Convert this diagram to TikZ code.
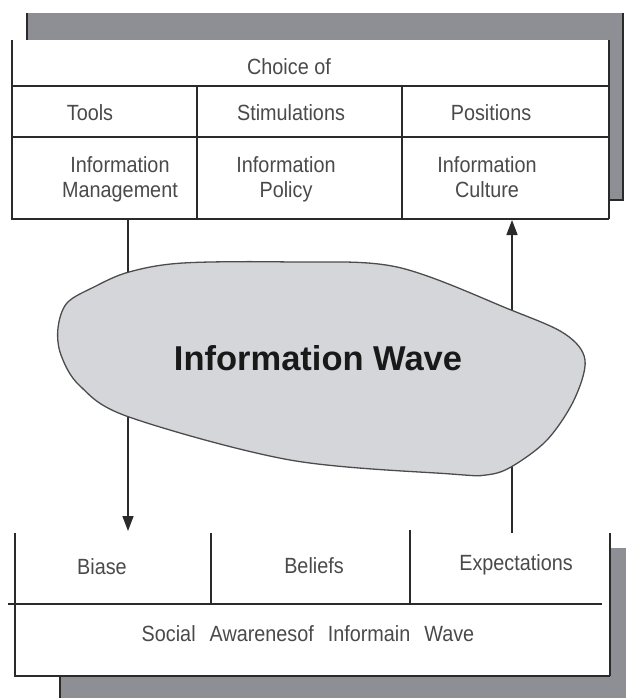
\documentclass[tikz,border=0pt]{standalone}
\usepackage{fontspec}
\setmainfont{Liberation Sans}
\newfontfamily\lblfont[FakeStretch=0.9]{Liberation Sans}
\usetikzlibrary{arrows.meta}
\definecolor{shadowgray}{HTML}{8E8F94}
\definecolor{blobgray}{HTML}{D5D6D9}
\definecolor{edgecol}{HTML}{2A2A2A}
\definecolor{txtcol}{HTML}{4A4A4A}
\begin{document}
\begin{tikzpicture}[x=1pt,y=-1pt,
  lbl/.style={font=\lblfont\fontsize{22}{25}\selectfont, text=txtcol, inner sep=0pt, align=center, anchor=north},
  rule/.style={draw=edgecol, line width=1.5pt},
  frame/.style={draw=edgecol, line width=2.5pt},
  shade/.style={fill=shadowgray},
  conn/.style={draw=edgecol, line width=1.5pt, -{Triangle[length=15pt,width=11pt]}},
  wave/.style={fill=blobgray, draw=black!70, line width=1.3pt}]
\useasboundingbox (0,0) rectangle (626,698);

% ---------- top box ----------
\fill[shade] (27,13) rectangle (623,200);
\draw[rule] (27,13) -- (27,40);
\draw[rule] (623,13) -- (623,200) -- (609,200);
\fill[white] (12,40) rectangle (609,219);
\draw[frame] (12,40) -- (12,219) -- (609,219);
\draw[rule] (609,40) -- (609,219);
\draw[rule] (12,86) -- (609,86);
\draw[rule] (12,137) -- (609,137);
\draw[rule] (197,86) -- (197,219);
\draw[rule] (402,86) -- (402,219);

\node[lbl] (choice) at (289,58) {Choice of};
\node[lbl] (tools) at (90,104) {Tools};
\node[lbl] (stim) at (291,104) {Stimulations};
\node[lbl] (pos) at (491,104) {Positions};
\node[lbl] (im) at (120,156) {Information\\Management};
\node[lbl] (ip) at (286,156) {Information\\Policy};
\node[lbl] (ic) at (487,156) {Information\\Culture};

% ---------- bottom box ----------
\fill[shade] (60,548) rectangle (626,698);
\draw[rule] (60,676) -- (60,698);
\fill[white] (15,533) rectangle (610,676);
\draw[frame] (15,533) -- (15,676) -- (610,676);
\draw[rule] (610,533) -- (610,676);
\draw[rule] (8,604) -- (602,604);
\draw[rule] (211,533) -- (211,604);
\draw[rule] (410,530) -- (410,604);

\node[lbl] (biase) at (102,558) {Biase};
\node[lbl] (beliefs) at (314,557) {Beliefs};
\node[lbl] (expect) at (516,554) {Expectations};
\node[lbl] (social) at (308,625) {Social\hspace{14pt}Awarenesof\hspace{14pt}Informain\hspace{14pt}Wave};

% ---------- connectors ----------
\coordinate (topout) at (128,219);
\coordinate (botin) at (128,531);
\coordinate (botout) at (512,533);
\coordinate (topin) at (512,220);
\draw[conn] (topout) -- (botin);
\draw[conn] (botout) -- (topin);

% ---------- information wave ----------
\draw[wave, tension=0.55] plot[smooth cycle] coordinates {
  (129,272) (183,263) (290,262) (397,267) (511,310) (565,334) (585,360)
  (574,400) (547,440) (511,467) (486,475) (451,474) (290,460) (129,417)
  (80,386) (61,355) (58,328) (67,303) (94,287)};
\node[font=\bfseries\fontsize{34.5}{40}\selectfont, text=black!90, inner sep=0pt] (wavetext) at (318,358) {Information Wave};
\end{tikzpicture}
\end{document}
